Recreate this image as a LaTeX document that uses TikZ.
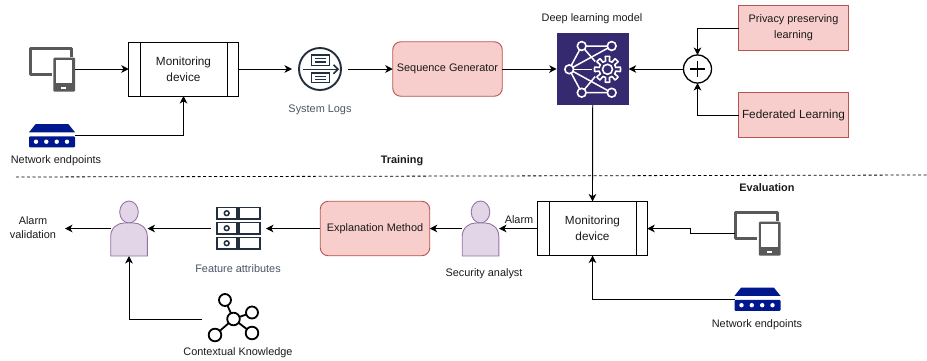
\documentclass[tikz,border=0pt]{standalone}
\usepackage{fontspec}
\setmainfont{Liberation Sans}
\usetikzlibrary{arrows.meta}
\definecolor{pinkfill}{HTML}{F8CECC}
\definecolor{pinkline}{HTML}{B85450}
\definecolor{purplefill}{HTML}{E1D5E7}
\definecolor{purpleline}{HTML}{9673A6}
\definecolor{dlblue}{HTML}{352A6F}
\definecolor{netblue}{HTML}{00188D}
\definecolor{lapgray}{HTML}{595959}
\definecolor{icondark}{HTML}{232F3E}
\definecolor{softtext}{HTML}{4A5463}
\definecolor{maintext}{HTML}{1A1A1A}
\tikzset{
  x=1pt,y=-1pt,
  flow/.style={draw=black,line width=0.9pt,-{Stealth[length=7.5pt,width=7.5pt,inset=2.2pt]}},
  anchorbox/.style={inner sep=0pt,outer sep=0pt,minimum width=#1},
  labeltext/.style={inner sep=0pt,outer sep=0pt,align=center,text=maintext,font=\fontsize{10.9}{14}\selectfont},
  softlabel/.style={labeltext,text=softtext},
  boldlabel/.style={labeltext,font=\fontsize{10.9}{14}\selectfont\bfseries},
  blocktext/.style={inner sep=0pt,outer sep=0pt,align=center,text=maintext},
  device/.style={blocktext,draw=black,line width=0.9pt,fill=white,minimum width=109.5pt,minimum height=54pt,font=\fontsize{11.8}{16}\selectfont},
  pinkround/.style={blocktext,draw=pinkline,line width=0.9pt,fill=pinkfill,rounded corners=8pt,minimum width=109.5pt,minimum height=54.5pt,font=\fontsize{10.9}{16}\selectfont},
  pinkbox/.style={blocktext,draw=pinkline,line width=0.9pt,fill=pinkfill,minimum width=109.5pt,minimum height=45.5pt,font=\fontsize{10.9}{16}\selectfont},
  laptoppic/.pic={
    \draw[lapgray,line width=3pt,line join=round] (19.7,-12.3) -- (19.7,-21) -- (-21.7,-21) -- (-21.7,5.3) -- (-0.3,5.3);
    \fill[lapgray,rounded corners=1pt] (1.3,-11.3) rectangle (23,22.7);
    \fill[white] (3.7,-9) rectangle (20.3,14.3);
    \fill[white] (9.3,18.3) rectangle (14,20.3);
  },
  netpic/.pic={
    \fill[netblue] (-16.3,-11.5) -- (16.3,-11.5) -- (23,-3.2) -- (-23,-3.2) -- cycle;
    \fill[netblue,rounded corners=1pt] (-23,0.8) rectangle (23,11.8);
    \foreach \dx in {-16,-5.7,4.7,15}{\fill[white] (\dx,6.2) circle (2.2);}
  },
  logspic/.pic={
    \draw[icondark,line width=1.9pt] (0,0) circle (21);
    \draw[icondark,line width=1.5pt] (-8.5,-3.5) -- (-8.5,-14) -- (9.3,-14) -- (9.3,-3.5) -- cycle;
    \draw[icondark,line width=1.2pt] (-5,-10.3) -- (6,-10.3) (-5,-7) -- (6,-7);
    \draw[icondark,line width=1.5pt] (-8.5,4) -- (-8.5,13.7) -- (9.3,13.7) -- (9.3,4) -- cycle;
    \draw[icondark,line width=1.2pt] (-5,7.3) -- (6,7.3) (-5,10.5) -- (6,10.5);
    \draw[icondark,line width=1.6pt] (-17,0.3) -- (17.5,0.3);
    \draw[icondark,line width=1.6pt] (13.5,-4.2) -- (18,0.3) -- (13.5,4.8);
  },
  dlpic/.pic={
    \begin{scope}[white,line width=1.5pt]
      \draw (-23.5,0.3) -- (-11,-23) -- (19,-23) (-23.5,0.3) -- (-11,23.7) -- (19,23.7);
      \draw (-23.5,0.3) -- (19,-23) (-23.5,0.3) -- (19,23.7);
      \draw (-11,-23) -- (2.5,-7.5) (-11,23.7) -- (2.5,7.5);
      \draw (-23.5,0.3) -- (-1,0.3);
      \foreach \nx/\ny in {-11/-23,19/-23,-23.5/0.3,-11/23.7,19/23.7}{\filldraw[fill=dlblue,line width=1.6pt] (\nx,\ny) circle (4.4);}
      \begin{scope}[shift={(14.8,0.3)}]
        \filldraw[fill=dlblue,line width=1.6pt,line join=round] plot[domain=0:360,samples=145,variable=\t] ({\t}:{10.7+2.3*(cos(8*\t)>0?1:-1)}) -- cycle;
        \draw[line width=1.6pt] (0,0) circle (5);
      \end{scope}
    \end{scope}
  },
  featurepic/.pic={
    \begin{scope}[icondark,line width=1.6pt]
      \foreach \ry in {-21,-6,9}{
        \draw (-21.7,\ry) rectangle (-1.3,\ry+11.5);
        \draw (0.7,\ry) rectangle (21.3,\ry+11.5);
        \draw[line width=1.5pt] (-11.8,\ry+5.7) circle (2.4);
      }
    \end{scope}
  },
  knowpic/.pic={
    \begin{scope}[black,line width=1.8pt]
      \draw (0,0) -- (-8.5,-19) (0,0) -- (18.5,-6.5) (0,0) -- (18.5,14) (0,0) -- (-18.5,16);
      \foreach \nx/\ny/\nr in {-8.5/-19/6,18.5/-6.5/6,18.5/14/6.3,-18.5/16/6.3,0/0/6.3}{\filldraw[fill=white] (\nx,\ny) circle (\nr);}
    \end{scope}
  },
  personpic/.pic={
    \filldraw[fill=purplefill,draw=purpleline,line width=0.9pt] (0,-16.5) ellipse (9.3 and 11);
    \filldraw[fill=purplefill,draw=purpleline,line width=0.9pt] (-18.3,27.5) -- (-18.3,8) .. controls (-18.3,-1) and (-11,-5.5) .. (-5,-5.5) -- (5,-5.5) .. controls (11,-5.5) and (18.3,-1) .. (18.3,8) -- (18.3,27.5) -- cycle;
  },
}
\begin{document}
\begin{tikzpicture}
\useasboundingbox (0,0) rectangle (927,360);

% anchors for icon-type elements
\node[anchorbox=46pt,minimum height=45pt] (lapA) at (52,69) {};
\pic at (lapA.center) {laptoppic};
\node[anchorbox=46pt,minimum height=23pt] (netA) at (52,135.5) {};
\pic at (netA.center) {netpic};
\node[anchorbox=56pt,minimum height=44pt] (logs) at (320,69) {};
\pic at (logs.center) {logspic};
\node[anchorbox=72pt,minimum height=72pt,fill=dlblue] (dl) at (592.7,69) {};
\pic at (dl.center) {dlpic};
\node[anchorbox=46pt,minimum height=45pt] (lapB) at (757.5,233) {};
\pic at (lapB.center) {laptoppic};
\node[anchorbox=46pt,minimum height=23pt] (netB) at (757.5,299) {};
\pic at (netB.center) {netpic};
\node[anchorbox=55pt,minimum height=55pt] (feat) at (238.5,228.5) {};
\pic at (feat.center) {featurepic};
\node[anchorbox=63pt,minimum height=50pt] (know) at (233.5,319) {};
\pic at (know.center) {knowpic};
\node[anchorbox=37pt,minimum height=55pt] (analyst) at (480.5,228.5) {};
\pic at (analyst.center) {personpic};
\node[anchorbox=37pt,minimum height=55pt] (validator) at (129,228.5) {};
\pic at (validator.center) {personpic};
\coordinate (alarmEnd) at (65,228.5);

% blocks
\node[device] (monA) at (183.5,69) {Monitoring\\device};
\draw[line width=0.9pt] (140,42) -- (140,96) (227.5,42) -- (227.5,96);
\node[device] (monB) at (592.5,228.5) {Monitoring\\device};
\draw[line width=0.9pt] (549,201.5) -- (549,255.5) (636,201.5) -- (636,255.5);
\node[pinkround] (seq) at (447.5,69) {Sequence Generator};
\node[pinkround] (expl) at (375,228.5) {Explanation Method};
\node[pinkbox] (priv) at (793.5,28) {Privacy preserving\\learning};
\node[pinkbox,font=\fontsize{11.8}{16}\selectfont] (fed) at (793.5,115) {Federated Learning};
\node[draw=black,line width=1.3pt,circle,fill=white,minimum size=28pt,inner sep=0pt,outer sep=0pt] (plus) at (697.5,69) {};
\draw[line width=1.3pt] ([xshift=-7.7pt]plus.center) -- ([xshift=7.7pt]plus.center) ([yshift=-7.7pt]plus.center) -- ([yshift=7.7pt]plus.center);

% separator
\coordinate (sepL) at (16,177);
\coordinate (sepR) at (927,175);
\draw[black,line width=0.8pt,dash pattern=on 3pt off 2.5pt] (sepL) -- (sepR);

% labels
\node[labeltext] (tNetA) at (56,160.5) {Network endpoints};
\node[softlabel] (tLogs) at (320,109.5) {System Logs};
\node[labeltext] (tDl) at (592,18.5) {Deep learning model};
\node[boldlabel] (tTrain) at (402,160.5) {Training};
\node[boldlabel] (tEval) at (767,187.5) {Evaluation};
\node[labeltext] (tAlarm) at (519,219.5) {Alarm};
\node[labeltext] (tAnalyst) at (484,273.5) {Security analyst};
\node[softlabel] (tFeat) at (238,268.5) {Feature attributes};
\node[labeltext] (tValid) at (33,228) {Alarm\\validation};
\node[labeltext] (tKnow) at (238,352.5) {Contextual Knowledge};
\node[labeltext] (tNetB) at (757,324.5) {Network endpoints};

% connectors
\draw[flow] (lapA.east) -- (monA.west);
\draw[flow] (netA.east) -| (monA.south);
\draw[flow] (monA.east) -- (logs.west);
\draw[flow] (logs.east) -- (seq.west);
\draw[flow] (seq.east) -- (dl.west);
\draw[flow] (plus.west) -- (dl.east);
\draw[flow] (priv.west) -| (plus.north);
\draw[flow] (fed.west) -| (plus.south);
\draw[flow] (dl.south) -- (monB.north);
\draw[flow] (lapB.west) -- ++(-44,0) |- (monB.east);
\draw[flow] (netB.west) -| (monB.south);
\draw[flow] (monB.west) -- (analyst.east);
\draw[flow] (analyst.west) -- (expl.east);
\draw[flow] (expl.west) -- (feat.east);
\draw[flow] (feat.west) -- (validator.east);
\draw[flow] (validator.west) -- (alarmEnd);
\draw[flow] (know.west) -| (validator.south);
\end{tikzpicture}
\end{document}
